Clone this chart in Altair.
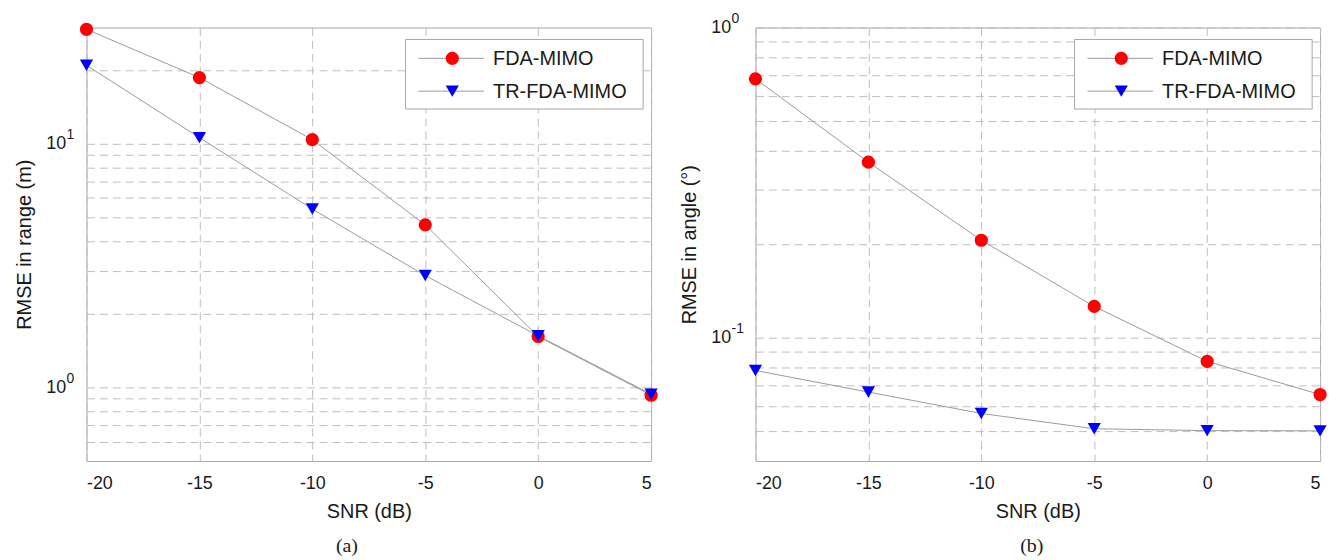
import altair as alt
import pandas as pd

# SNR sweep (dB)
snr = [-20, -15, -10, -5, 0, 5]
series = ["FDA-MIMO", "TR-FDA-MIMO"]

# RMSE in range (m)
range_fda = [29.5, 18.7, 10.4, 4.65, 1.62, 0.93]
range_tr = [21.0, 10.6, 5.4, 2.88, 1.63, 0.94]

# RMSE in angle (deg)
angle_fda = [0.683, 0.368, 0.206, 0.126, 0.0838, 0.0655]
angle_tr = [0.0783, 0.0667, 0.0569, 0.0508, 0.0501, 0.0500]

x_ticks = [-20, -15, -10, -5, 0, 5]
range_grid = [0.6, 0.7, 0.8, 0.9, 1, 2, 3, 4, 5, 6, 7, 8, 9, 10, 20]
angle_grid = [0.05, 0.06, 0.07, 0.08, 0.09, 0.1, 0.2, 0.3, 0.4, 0.5, 0.6, 0.7, 0.8, 0.9, 1]

# decade labels: base "10" on the axis, exponent drawn as a raised text
range_decades = [1, 10]
range_exps = ["0", "1"]
angle_decades = [0.1, 1]
angle_exps = ["-1", "0"]

W, H = 568, 436
FONT = "Liberation Sans"
LINE_GREY = "#9a9a9a"
RED, BLUE = "#ff0000", "#0000ff"

DECADE_LABELS = "indexof([0.1, 1, 10], datum.value) >= 0 ? '10' : ''"


def frame(a, b):
    return pd.DataFrame({
        "snr": snr * 2,
        "rmse": list(a) + list(b),
        "series": [series[0]] * len(snr) + [series[1]] * len(snr),
    })


def legend_layers():
    layers = [
        alt.Chart(pd.DataFrame({"k": [0]})).mark_rect(
            fill="white", stroke="#a6a6a6", strokeWidth=1
        ).encode(x=alt.value(321), x2=alt.value(560), y=alt.value(12), y2=alt.value(82))
    ]
    rows = [(series[0], 31, "circle", RED), (series[1], 64, "triangle-down", BLUE)]
    for name, yy, shape, col in rows:
        one = alt.Chart(pd.DataFrame({"label": [name]}))
        layers.append(one.mark_rule(color=LINE_GREY, strokeWidth=1).encode(
            x=alt.value(334), x2=alt.value(400), y=alt.value(yy)))
        layers.append(one.mark_point(shape=shape, filled=True, size=177, color=col, opacity=1).encode(
            x=alt.value(368), y=alt.value(yy)))
        layers.append(one.mark_text(align="left", baseline="middle", font=FONT, fontSize=20,
                                    color="#1a1a1a").encode(
            x=alt.value(409), y=alt.value(yy + 1), text="label:N"))
    return layers


def panel(df, domain, grid, decades, exps, label_pad, ytitle, caption, cdx):
    base = alt.Chart(df)
    x = alt.X("snr:Q", scale=alt.Scale(domain=[-20, 5], nice=False),
              axis=alt.Axis(values=x_ticks, title="SNR (dB)", labelExpr="'' + datum.value"))
    y = alt.Y("rmse:Q", scale=alt.Scale(type="log", domain=domain, nice=False),
              axis=alt.Axis(values=grid, labelExpr=DECADE_LABELS, title=ytitle,
                            labelPadding=label_pad))
    lines = base.mark_line(color=LINE_GREY, strokeWidth=1).encode(x=x, y=y, detail="series:N")
    circles = base.transform_filter(alt.datum.series == series[0]).mark_point(
        shape="circle", filled=True, size=177, color=RED, opacity=1).encode(x=x, y=y)
    tris = base.transform_filter(alt.datum.series == series[1]).mark_point(
        shape="triangle-down", filled=True, size=177, color=BLUE, opacity=1).encode(x=x, y=y)
    exponents = alt.Chart(pd.DataFrame({"rmse": decades, "exp": exps})).mark_text(
        align="left", baseline="middle", font=FONT, fontSize=14, color="#1a1a1a", dy=-9
    ).encode(x=alt.value(-label_pad + 1), y=y, text="exp:N")
    return alt.layer(lines, circles, tris, exponents, *legend_layers()).properties(
        width=W, height=H,
        title=alt.TitleParams(caption, orient="bottom", font="Liberation Serif", fontSize=20,
                              fontWeight="normal", color="#1a1a1a", dx=cdx, offset=15),
    )


left = panel(frame(range_fda, range_tr), [0.5, 30], range_grid, range_decades, range_exps, 21,
             "RMSE in range (m)", "(a)", -22)
right = panel(frame(angle_fda, angle_tr), [0.04, 1], angle_grid, angle_decades, angle_exps, 25,
              "RMSE in angle (\u00b0)", "(b)", -6)

chart = alt.hconcat(left, right, spacing=20).properties(
    padding={"left": 14, "top": 9, "right": 5, "bottom": 5},
).configure_view(
    stroke="#a6a6a6", strokeWidth=1
).configure_axis(
    domain=False, ticks=False,
    grid=True, gridColor="#bdbdbd", gridDash=[8, 5], gridWidth=1,
    labelFont=FONT, labelFontSize=18, labelColor="#1a1a1a",
    titleFont=FONT, titleFontSize=20, titleFontWeight="normal", titleColor="#1a1a1a",
).configure_axisX(
    labelPadding=14, titlePadding=9,
).configure_axisY(
    titlePadding=11,
)

chart.save("out.html", embed_options={"renderer": "svg", "actions": False})
